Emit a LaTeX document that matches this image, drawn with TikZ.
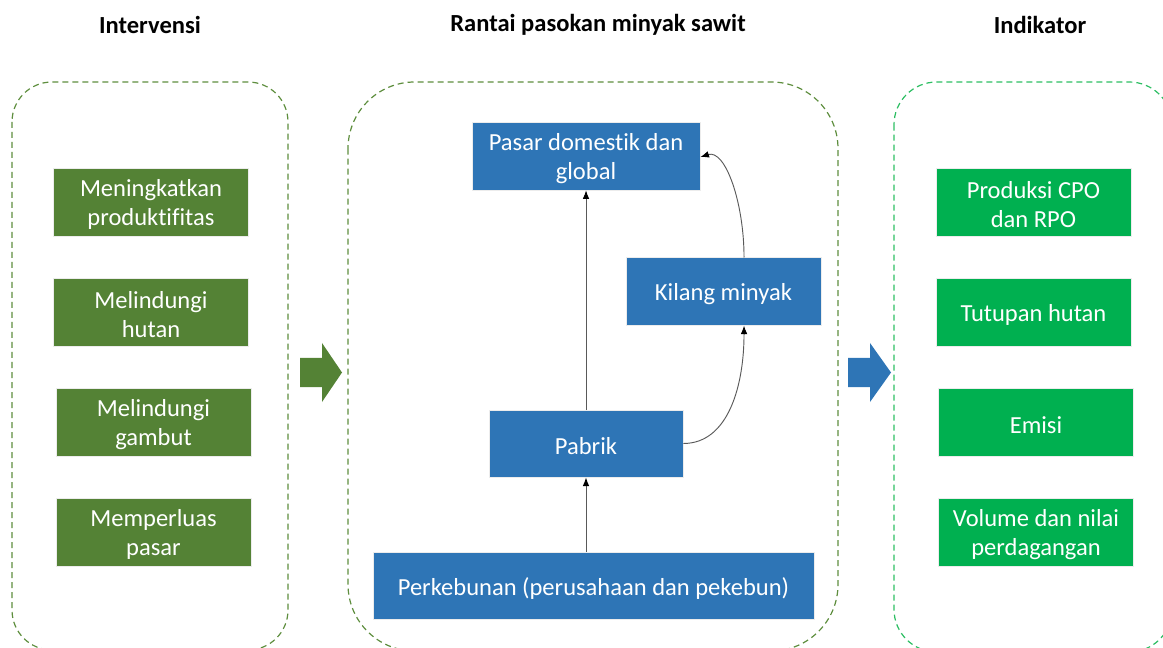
\documentclass[tikz,border=0pt]{standalone}
\usepackage{fontspec}
\setmainfont{Carlito}[RawFeature=-liga]
\usetikzlibrary{arrows.meta}
\definecolor{dkgreen}{HTML}{548235}
\definecolor{ltgreen}{HTML}{00B050}
\definecolor{pblue}{HTML}{2E75B6}
\definecolor{panelL}{HTML}{5E8E3E}
\definecolor{panelR}{HTML}{2DBE63}
\tikzset{
  txt/.style={font=\fontsize{18.4pt}{22pt}\selectfont, text=white, align=center, inner sep=0pt, yshift=-2pt},
  t/.style={label={[txt]center:#1}},
  lbl/.style={inner sep=0pt, draw=white!85!gray, line width=0.5pt},
  gbox/.style={lbl, fill=dkgreen, minimum width=146pt, minimum height=51pt},
  rbox/.style={lbl, fill=ltgreen, minimum width=146.5pt, minimum height=51pt},
  bbox/.style={lbl, fill=pblue, minimum height=50.5pt},
  ttl/.style={font=\fontsize{18.4pt}{22pt}\selectfont\bfseries, inner sep=0pt},
  panel/.style={dash pattern=on 4.5pt off 3pt, line width=0.9pt},
  conn/.style={draw=black!65, line width=0.7pt, -{Latex[length=6.5pt,width=5pt,color=black]}},
}
\begin{document}
\begin{tikzpicture}[x=0.75pt,y=-0.75pt]
\useasboundingbox (0,0) rectangle (1163,648);
\begin{scope}
\clip (0,0) rectangle (1163,648);
% panels
\draw[panel, draw=panelL, rounded corners=30pt] (12,82) rectangle (288,650);
\draw[panel, draw=panelL, rounded corners=50pt] (348,82) rectangle (838,651);
\draw[panel, draw=panelR, rounded corners=32pt] (894,82) rectangle (1172,652);
\end{scope}
% titles
\node[ttl] (t1) at (150,25) {Intervensi};
\node[ttl] (t2) at (598,25) {Rantai pasokan minyak sawit};
\node[ttl] (t3) at (1040,25) {Indikator};
% left boxes
\node[gbox, t={Meningkatkan\\produktifitas}] (l1) at (151,202) {};
\node[gbox, t={Melindungi\\hutan}] (l2) at (151,312) {};
\node[gbox, t={Melindungi\\gambut}] (l3) at (153.5,422) {};
\node[gbox, t={Memperluas\\pasar}] (l4) at (153.5,532) {};
% right boxes
\node[rbox, t={Produksi CPO\\dan RPO}] (r1) at (1033.5,202) {};
\node[rbox, t={Tutupan hutan}] (r2) at (1033.5,312) {};
\node[rbox, t={Emisi}] (r3) at (1036,422) {};
\node[rbox, t={Volume dan nilai\\perdagangan}] (r4) at (1036,532) {};
% middle boxes
\node[bbox, minimum width=171pt, minimum height=51pt, t={Pasar domestik dan\\global}] (pasar) at (586,156) {};
\node[bbox, minimum width=146.25pt, t={Kilang minyak}] (kilang) at (723.5,291.5) {};
\node[bbox, minimum width=145.5pt, t={Pabrik}] (pabrik) at (586,443.5) {};
\node[bbox, minimum width=330.75pt, t={Perkebunan (perusahaan dan pekebun)}] (kebun) at (593.5,585.5) {};
% connectors
\draw[conn] (kebun.north -| pabrik.south) -- (pabrik.south);
\draw[conn] (pabrik.north) -- (pasar.south);
\draw[conn] (pabrik.east) .. controls +(45,0) and +(0,60) .. ([xshift=15.4pt]kilang.south);
\draw[conn] ([xshift=15.4pt]kilang.north) .. controls +(0,-55) and +(25,-8) .. ([yshift=-0.8pt]pasar.east);
% big arrows
\fill[dkgreen] (300,358) -- (322,358) -- (322,343) -- (342,372.5) -- (322,402) -- (322,387) -- (300,387) -- cycle;
\fill[pblue] (848,358) -- (870,358) -- (870,343) -- (891,372.5) -- (870,402) -- (870,387) -- (848,387) -- cycle;
\end{tikzpicture}
\end{document}
